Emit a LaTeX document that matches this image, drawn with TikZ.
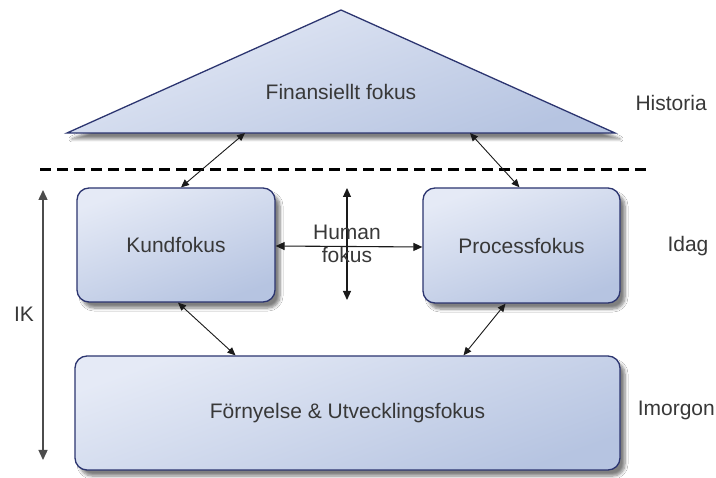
\documentclass[tikz,border=0pt]{standalone}
\usepackage{fontspec}
\setmainfont{Liberation Sans}
\usetikzlibrary{arrows.meta,shadows.blur}
\definecolor{boxline}{HTML}{2C3570}
\definecolor{boxtop}{HTML}{E5EAF6}
\definecolor{boxbot}{HTML}{B6C4E1}
\definecolor{txt}{HTML}{383838}
\definecolor{conncol}{HTML}{1A1A1A}
\begin{document}
\begin{tikzpicture}[x=1pt,y=-1pt,
  every node/.style={font=\fontsize{21}{23}\selectfont, text=txt},
  shade/.style={top color=boxtop, bottom color=boxbot, shading angle=20},
  sh/.style={blur shadow={shadow xshift=5pt, shadow yshift=-6pt, shadow blur steps=6, shadow blur radius=3pt, shadow opacity=50}},
  box/.style={draw=boxline, line width=1.3pt, rounded corners=12pt, shade, sh, inner sep=0pt},
  conn/.style={conncol, line width=0.9pt, {Triangle[length=8pt,width=7pt]}-{Triangle[length=8pt,width=7pt]}},
  bigconn/.style={conncol, line width=1.1pt, {Triangle[length=9pt,width=8pt]}-{Triangle[length=9pt,width=8pt]}},
  label/.style={anchor=west}
]
\useasboundingbox (0,0) rectangle (716,478);
\fill[white] (0,0) rectangle (716,478);

% triangle
\draw[draw=boxline, line width=1.3pt, line join=miter, shade, sh] (341,10) -- (615,133) -- (67,133) -- cycle;
\node (fin) at (341,92) {Finansiellt fokus};
\coordinate (t1) at (245,133);
\coordinate (t2) at (470,133);

% dashed separator
\draw[black, line width=3pt, dash pattern=on 11pt off 6pt] (40,170) -- (652,170);

% boxes
\node[box, minimum width=198pt, minimum height=114pt] (kund) at (176,245) {Kundfokus};
\node[box, minimum width=197pt, minimum height=115pt] (proc) at (521.5,245.5) {Processfokus};
\node[box, minimum width=545pt, minimum height=114pt] (forn) at (347.5,413) {Förnyelse \& Utvecklingsfokus};

% connectors
\draw[conn] (t1) -- ([xshift=5pt]kund.north);
\draw[conn] (t2) -- ([xshift=-2pt]proc.north);
\draw[conn] ([xshift=2pt]kund.south) -- ([xshift=-112pt]forn.north);
\draw[conn] ([xshift=-16pt]proc.south) -- ([xshift=116pt]forn.north);

% human fokus
\coordinate (hv1) at (347,188);
\coordinate (hv2) at (347,300);
\draw[bigconn] (hv1) -- (hv2);
\draw[bigconn] ([yshift=-1pt]kund.east) -- ([yshift=-1.5pt]proc.west);
\node[align=center] (hum) at (347,244) {Human\\fokus};

% IK arrow
\coordinate (ik1) at (43,190);
\coordinate (ik2) at (43,460);
\draw[black!70, line width=1.4pt, {Triangle[length=10pt,width=9pt]}-{Triangle[length=10pt,width=9pt]}] (ik1) -- (ik2);
\node (ik) at (24,314) {IK};

% side labels
\node[label] (hist) at (632,103) {Historia};
\node[label] (idag) at (664,246) {Idag};
\node[anchor=east, inner sep=1pt] (imor) at (716,410) {Imorgon};
\end{tikzpicture}
\end{document}
